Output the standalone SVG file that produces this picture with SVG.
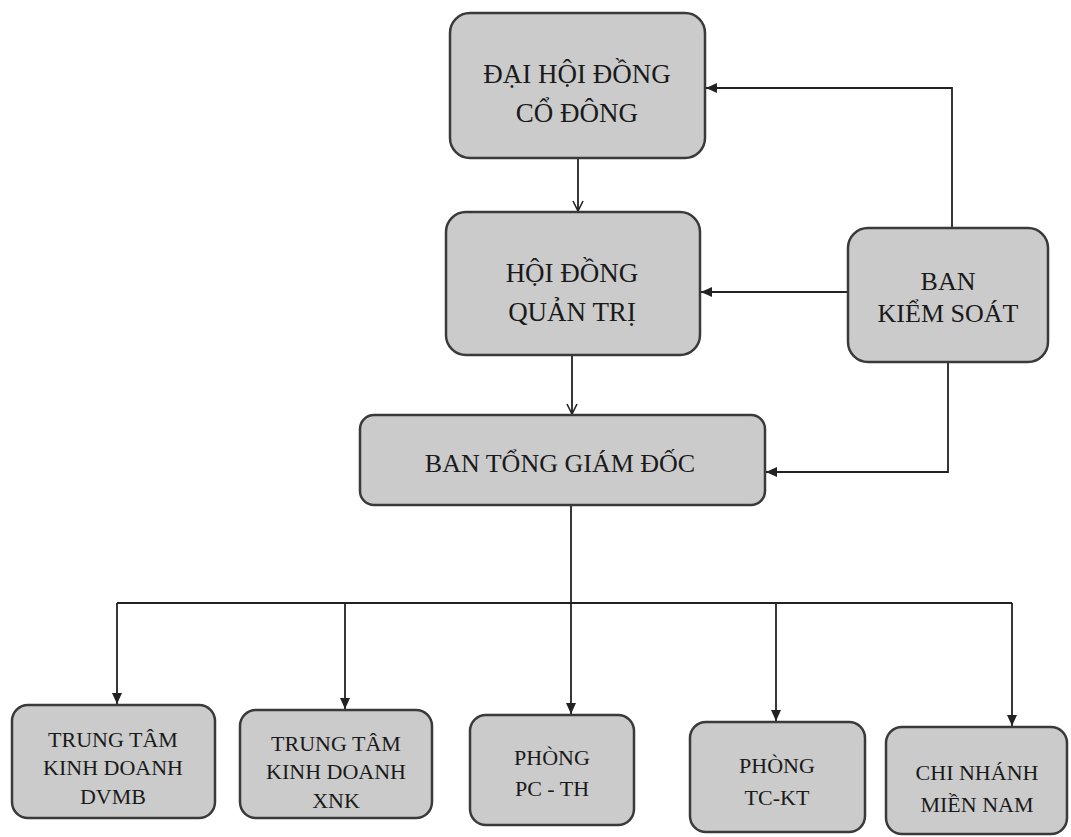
<svg xmlns="http://www.w3.org/2000/svg" width="1071" height="837" viewBox="0 0 1071 837">
<style>
.box{fill:#cbcbcb;stroke:#3a3a3a;stroke-width:2.5}
.c{fill:none;stroke:#222;stroke-width:1.8}
</style>
<defs>
<marker id="open" markerWidth="14" markerHeight="14" refX="11" refY="6" orient="auto" markerUnits="userSpaceOnUse">
<path d="M1,1 L11,6 L1,11" fill="none" stroke="#222" stroke-width="1.6"/>
</marker>
<marker id="fill" markerWidth="14" markerHeight="14" refX="11" refY="6" orient="auto" markerUnits="userSpaceOnUse">
<path d="M0,1 L11,6 L0,11 Z" fill="#222"/>
</marker>
</defs>
<rect width="1071" height="837" fill="#fff"/>
<g id="connectors">
<path class="c" d="M578,158 V211" marker-end="url(#open)"/>
<path class="c" d="M572,355 V414" marker-end="url(#open)"/>
<path class="c" d="M848,292 H701" marker-end="url(#fill)"/>
<path class="c" d="M952,228 V88 H706" marker-end="url(#fill)"/>
<path class="c" d="M948,362 V472 H766" marker-end="url(#fill)"/>
<path class="c" d="M571,505 V603"/>
<path class="c" d="M117,603 H1012"/>
<path class="c" d="M117,603 V704" marker-end="url(#fill)"/>
<path class="c" d="M345,603 V709" marker-end="url(#fill)"/>
<path class="c" d="M571,603 V714" marker-end="url(#fill)"/>
<path class="c" d="M776,603 V721" marker-end="url(#fill)"/>
<path class="c" d="M1012,603 V726" marker-end="url(#fill)"/>
</g>
<g font-family="Liberation Serif, serif" fill="#1a1a1a" text-anchor="middle">
<g id="dhdcd" font-size="27">
<rect class="box" x="450" y="13" width="255" height="145" rx="20"/>
<text x="577" y="83">ĐẠI HỘI ĐỒNG</text>
<text x="577" y="122">CỔ ĐÔNG</text>
</g>
<g id="hdqt" font-size="27">
<rect class="box" x="446" y="212" width="254" height="143" rx="20"/>
<text x="572" y="282">HỘI ĐỒNG</text>
<text x="572" y="321">QUẢN TRỊ</text>
</g>
<g id="bks" font-size="26">
<rect class="box" x="848" y="228" width="200" height="134" rx="20"/>
<text x="948" y="290">BAN</text>
<text x="948" y="322">KIỂM SOÁT</text>
</g>
<g id="btgd" font-size="26">
<rect class="box" x="360" y="415" width="405" height="90" rx="14"/>
<text x="560" y="472">BAN TỔNG GIÁM ĐỐC</text>
</g>
<g id="ttkd-dvmb" font-size="22">
<rect class="box" x="12" y="705" width="203" height="113" rx="16"/>
<text x="113" y="747">TRUNG TÂM</text>
<text x="113" y="775">KINH DOANH</text>
<text x="113" y="804">DVMB</text>
</g>
<g id="ttkd-xnk" font-size="22">
<rect class="box" x="240" y="710" width="192" height="108" rx="16"/>
<text x="336" y="751">TRUNG TÂM</text>
<text x="336" y="779">KINH DOANH</text>
<text x="336" y="808">XNK</text>
</g>
<g id="pc-th" font-size="22">
<rect class="box" x="470" y="715" width="164" height="110" rx="16"/>
<text x="552" y="765">PHÒNG</text>
<text x="552" y="796">PC - TH</text>
</g>
<g id="tc-kt" font-size="22">
<rect class="box" x="690" y="722" width="175" height="110" rx="16"/>
<text x="777" y="773">PHÒNG</text>
<text x="777" y="805">TC-KT</text>
</g>
<g id="cn-mn" font-size="22">
<rect class="box" x="886" y="727" width="181" height="107" rx="16"/>
<text x="977" y="780">CHI NHÁNH</text>
<text x="977" y="812">MIỀN NAM</text>
</g>
</g>
</svg>
